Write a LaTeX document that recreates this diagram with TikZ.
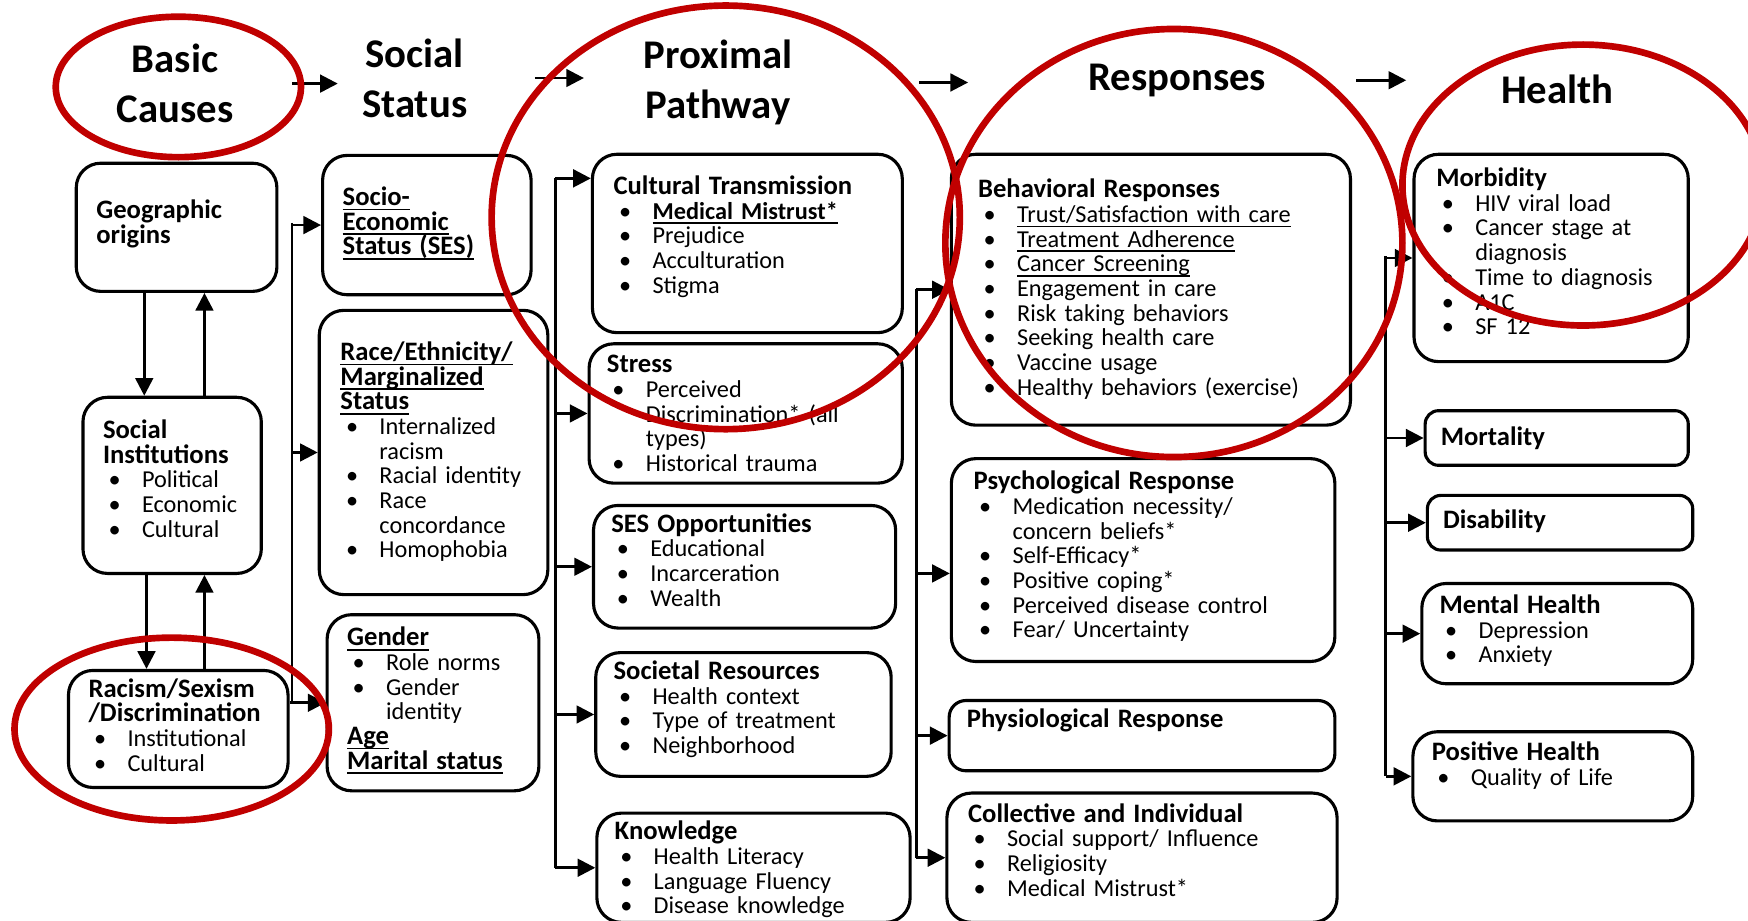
\documentclass[tikz,border=0pt]{standalone}
\usepackage{fontspec}
\setmainfont{Carlito}
\usetikzlibrary{arrows.meta}

\definecolor{ringred}{RGB}{192,0,0}
\newcommand{\tightlines}{\lineskiplimit=-100pt\relax\lineskip=0pt\relax}
\newcommand{\uln}[1]{\leavevmode\setbox0=\hbox{#1}\rlap{\vrule height -0.8pt depth 1.2pt width \wd0}\box0}
\newcommand{\bul}{\hspace*{0.5mm}\makebox[3mm][l]{\textbullet}}
\newcommand{\cont}{\hspace*{3.5mm}}
\newcommand{\ttl}[1]{{\fontsize{6.8}{6.3}\selectfont\bfseries #1}}

\begin{document}
\begin{tikzpicture}
  [x=0.1mm,y=-0.1mm,
   heading/.style={font=\fontsize{10.4}{12.8}\selectfont\bfseries,align=center,inner sep=0pt},
   entry/.style={draw,line width=0.8pt,rounded corners=2.2mm,anchor=north west,align=left,
     inner xsep=1.8mm,inner ysep=0pt,font=\fontsize{6.2}{6.3}\selectfont\tightlines},
   arrow/.style={-{Triangle[length=4.5pt,width=4.5pt]},line width=0.7pt},
   ring/.style={draw=ringred,line width=1.7pt}]
  \useasboundingbox (0,0) rectangle (1568,826);

  % column heads
  \node[heading] (basic) at (157,75) {Basic\\Causes};
  \node[heading] (social) at (372,70) {Social\\Status};
  \node[heading] (proximal) at (644,74) {Proximal\\Pathway};
  \node[heading] (responses) at (1056,72) {Responses};
  \node[heading] (health) at (1397,80) {Health};

  % basic causes
  \node[entry,text width=14.4mm,text height=5mm,text depth=6.5mm] (geo) at (67,145)
    {\ttl{Geographic\\origins}};
  \node[entry,text width=12.4mm,text height=3.7mm,text depth=12.1mm] (socinst) at (73,355)
    {\ttl{Social\\Institutions}\\\bul Political\\\bul Economic\\\bul Cultural};
  \node[entry,text width=16.1mm,text height=2.4mm,text depth=8.1mm] (racism) at (60,600)
    {\ttl{Racism/Sexism\\/Discrimination}\\\bul Institutional\\\bul Cultural};

  % social status
  \node[entry,text width=15.1mm,text height=4.5mm,text depth=8mm] (ses) at (288,138)
    {\ttl{\uln{Socio-}\\\uln{Economic}\\\uln{Status (SES)}}};
  \node[entry,inner xsep=1.9mm,text width=16.7mm,text height=4.5mm,text depth=21mm] (race) at (285,277)
    {\ttl{\uln{Race/Ethnicity/}\\\uln{Marginalized}\\\uln{Status}}\\
     \bul Internalized\\\cont racism\\\bul Racial identity\\\bul Race\\\cont concordance\\\bul Homophobia};
  \node[entry,text width=15.4mm,text height=2.8mm,text depth=13mm] (gender) at (292,550)
    {\ttl{\uln{Gender}}\\\bul Role norms\\\bul Gender\\\cont identity\\
     \ttl{\uln{Age}}\\\ttl{\uln{Marital status}}};

  % proximal pathway
  \node[entry,inner xsep=1.9mm,text width=24mm,text height=3.6mm,text depth=12.4mm] (ct) at (530,137)
    {\ttl{Cultural Transmission}\\\bul\textbf{\uln{Medical Mistrust*}}\\\bul Prejudice\\
     \bul Acculturation\\\bul Stigma};
  \node[entry,inner xsep=1.6mm,text width=24.9mm,text height=2.6mm,text depth=9.9mm] (stress) at (527,307)
    {\ttl{Stress}\\\bul Perceived\\\cont Discrimination* (all\\\cont types)\\\bul Historical trauma};
  \node[entry,inner xsep=1.6mm,text width=23.9mm,text height=2.4mm,text depth=8.6mm] (sesopp) at (531,452)
    {\ttl{SES Opportunities}\\\bul Educational\\\bul Incarceration\\\bul Wealth};
  \node[entry,inner xsep=1.6mm,text width=23.3mm,text height=2.4mm,text depth=8.7mm] (socres) at (533,584)
    {\ttl{Societal Resources}\\\bul Health context\\\bul Type of treatment\\\bul Neighborhood};
  \node[entry,inner xsep=1.6mm,text width=24.9mm,text height=2.4mm,text depth=7.4mm] (know) at (534,728)
    {\ttl{Knowledge}\\\bul Health Literacy\\\bul Language Fluency\\\bul Disease knowledge};

  % responses
  \node[entry,inner xsep=2.4mm,text width=31mm,text height=3.9mm,text depth=20.4mm] (behav) at (852,137)
    {\ttl{Behavioral Responses}\\\bul\uln{Trust/Satisfaction with care}\\
     \bul\uln{Treatment Adherence}\\\bul\uln{Cancer Screening}\\\bul Engagement in care\\
     \bul Risk taking behaviors\\\bul Seeking health care\\\bul Vaccine usage\\
     \bul Healthy behaviors (exercise)};
  \node[entry,inner xsep=2mm,text width=30.4mm,text height=2.8mm,text depth=15.4mm] (psych) at (852,410)
    {\ttl{Psychological Response}\\\bul Medication necessity/\\\cont concern beliefs*\\
     \bul Self-Efficacy*\\\bul Positive coping*\\\bul Perceived disease control\\\bul Fear/ Uncertainty};
  \node[entry,inner xsep=1.6mm,text width=31.4mm,text height=2.4mm,text depth=3.9mm,rounded corners=1.5mm] (physio) at (850,627)
    {\ttl{Physiological Response}};
  \node[entry,inner xsep=1.9mm,text width=31.2mm,text height=2.6mm,text depth=9mm] (collect) at (848,710)
    {\ttl{Collective and Individual}\\\bul Social support/ Influence\\\bul Religiosity\\
     \bul Medical Mistrust*};

  % health
  \node[entry,inner xsep=2mm,text width=20.6mm,text height=2.9mm,text depth=15.7mm] (morb) at (1267,137)
    {\ttl{Morbidity}\\\bul HIV viral load\\\bul Cancer stage at\\\cont diagnosis\\
     \bul Time to diagnosis\\\bul A1C\\\bul SF 12};
  \node[entry,inner xsep=1.4mm,text width=20.8mm,text height=3.1mm,text depth=1.8mm,rounded corners=1.2mm] (mort) at (1277,367)
    {\ttl{Mortality}};
  \node[entry,inner xsep=1.4mm,text width=21mm,text height=3mm,text depth=1.9mm,rounded corners=1.2mm] (disab) at (1279,443)
    {\ttl{Disability}};
  \node[entry,inner xsep=1.6mm,text width=21.1mm,text height=2.7mm,text depth=6.3mm] (menth) at (1274,522)
    {\ttl{Mental Health}\\\bul Depression\\\bul Anxiety};
  \node[entry,inner xsep=1.7mm,text width=21.7mm,text height=2.6mm,text depth=5.4mm] (posh) at (1266,655)
    {\ttl{Positive Health}\\\bul Quality of Life};

  % arrows between the heads
  \foreach \a/\s/\l in {basic/5.2/41,social/6/44,proximal/11.3/44,responses/8/45}
    \draw[arrow] ([xshift=\s mm]\a.east) -- ++(\l,0);

  % within basic causes
  \draw[arrow] ([xshift=-2.9mm]geo.south) -- ([xshift=-2.9mm]geo.south |- socinst.north);
  \draw[arrow] ([xshift=2.9mm]socinst.north) -- ([xshift=2.9mm]socinst.north |- geo.south);
  \draw[arrow] ([xshift=-2.3mm]socinst.south) -- ([xshift=-2.3mm]socinst.south |- racism.north);
  \draw[arrow] ([xshift=2.9mm]socinst.south |- racism.north) -- ([xshift=2.9mm]socinst.south);

  % spines feeding each column
  \coordinate (spine1) at (262,200);
  \coordinate (spine2) at (498,160);
  \coordinate (spine3) at (822,259);
  \coordinate (spine4) at (1243,230);

  \draw[line width=0.7pt] (spine1) -- (spine1 |- gender.west);
  \foreach \n in {ses,race}
    \draw[arrow] (spine1 |- \n.west) -- (\n.west);
  \draw[arrow] (racism.east |- gender.west) -- (gender.west);

  \draw[line width=0.7pt] (spine2) -- (spine2 |- know.west);
  \draw[arrow] (spine2) -- (spine2 -| ct.west);
  \foreach \n in {stress,sesopp,socres,know}
    \draw[arrow] (spine2 |- \n.west) -- (\n.west);

  \draw[line width=0.7pt] (spine3) -- (spine3 |- collect.west);
  \foreach \n in {behav,physio,collect}
    \draw[arrow] (spine3 |- \n.west) -- (\n.west);
  \draw[arrow] ([yshift=-1.2mm]psych.west -| spine3) -- ([yshift=-1.2mm]psych.west);

  \draw[line width=0.7pt] (spine4) -- (spine4 |- posh.west);
  \foreach \n in {morb,mort,disab,menth,posh}
    \draw[arrow] (spine4 |- \n.west) -- (\n.west);

  % red rings
  \draw[ring] (160,78) ellipse [x radius=11mm,y radius=6.3mm];
  \draw[ring] (154,654) ellipse [x radius=14.1mm,y radius=8.2mm];
  \draw[ring] (651,195) ellipse [x radius=21mm,y radius=19mm];
  \draw[ring] (1053,218) ellipse [x radius=20.5mm,y radius=19.2mm];
  \draw[ring] (1420,166) ellipse [x radius=16.2mm,y radius=12.6mm];
\end{tikzpicture}
\end{document}
